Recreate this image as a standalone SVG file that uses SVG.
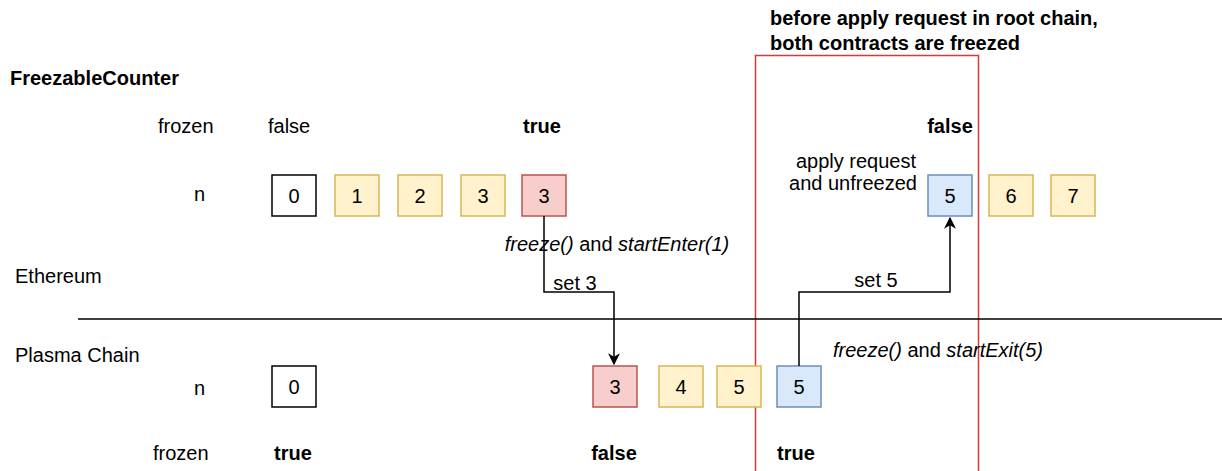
<svg xmlns="http://www.w3.org/2000/svg" width="1222" height="471" viewBox="0 0 1222 471">
<defs>
<style>
text{font-family:"Liberation Sans",Arial,sans-serif;font-size:20px;fill:#000}
.b{font-weight:bold}
.c{text-anchor:middle}
.e{text-anchor:end}
.i{font-style:italic}
.box{stroke-width:1.5}
.w{fill:#fff;stroke:#000}
.y{fill:#fff2cc;stroke:#d6b656}
.r{fill:#f8cecc;stroke:#b85450}
.bl{fill:#dae8fc;stroke:#6c8ebf}
.edge{fill:none;stroke:#000;stroke-width:1.5}
</style>
<marker id="arr" viewBox="0 0 10 10" refX="9" refY="5" markerWidth="12" markerHeight="12" markerUnits="userSpaceOnUse" orient="auto">
<path d="M0,0 L10,5 L0,10 L3,5 Z" fill="#000"/>
</marker>
</defs>
<rect fill="#fff" width="1222" height="471"/>

<g id="region">
<rect x="755.5" y="55.5" width="223" height="420" fill="none" stroke="#d63b3b" stroke-width="1.5"/>
<text class="b" x="770" y="25">before apply request in root chain,</text>
<text class="b" x="770" y="50">both contracts are freezed</text>
</g>

<g id="labels">
<text class="b" x="10" y="85">FreezableCounter</text>
<text x="158" y="133">frozen</text>
<text x="268" y="133">false</text>
<text class="b c" x="542" y="133">true</text>
<text class="b c" x="950" y="133">false</text>
<text x="194" y="201">n</text>
<text class="c" x="856" y="168">apply request</text>
<text class="c" x="853" y="190">and unfreezed</text>
<text x="15" y="283">Ethereum</text>
<text x="15" y="362">Plasma Chain</text>
<text x="194" y="395">n</text>
<text x="153" y="460">frozen</text>
<text class="b c" x="293" y="460">true</text>
<text class="b c" x="614" y="460">false</text>
<text class="b c" x="796" y="460">true</text>
</g>

<g id="divider"><line x1="78" y1="319" x2="1222" y2="319" stroke="#000" stroke-width="1.5"/></g>

<g id="eth-0"><rect class="box w" x="272" y="175" width="44" height="41"/><text class="c" x="294" y="203">0</text></g>
<g id="eth-1"><rect class="box y" x="335" y="175" width="44" height="41"/><text class="c" x="357" y="203">1</text></g>
<g id="eth-2"><rect class="box y" x="398" y="175" width="44" height="41"/><text class="c" x="420" y="203">2</text></g>
<g id="eth-3"><rect class="box y" x="461" y="175" width="44" height="41"/><text class="c" x="483" y="203">3</text></g>
<g id="eth-3f"><rect class="box r" x="522" y="175" width="44" height="41"/><text class="c" x="544" y="203">3</text></g>
<g id="eth-5"><rect class="box bl" x="928" y="175" width="44" height="41"/><text class="c" x="950" y="203">5</text></g>
<g id="eth-6"><rect class="box y" x="989" y="175" width="44" height="41"/><text class="c" x="1011" y="203">6</text></g>
<g id="eth-7"><rect class="box y" x="1051" y="175" width="44" height="41"/><text class="c" x="1073" y="203">7</text></g>

<g id="pl-0"><rect class="box w" x="272" y="366" width="44" height="41"/><text class="c" x="294" y="394">0</text></g>
<g id="pl-3"><rect class="box r" x="593" y="366" width="44" height="41"/><text class="c" x="615" y="394">3</text></g>
<g id="pl-4"><rect class="box y" x="659" y="366" width="44" height="41"/><text class="c" x="681" y="394">4</text></g>
<g id="pl-5"><rect class="box y" x="717" y="366" width="44" height="41"/><text class="c" x="739" y="394">5</text></g>
<g id="pl-5f"><rect class="box bl" x="777" y="366" width="44" height="41"/><text class="c" x="799" y="394">5</text></g>

<g id="connectors">
<path class="edge" d="M544,216 V292 H614 V364" marker-end="url(#arr)"/>
<path class="edge" d="M799,366 V292 H950 V218" marker-end="url(#arr)"/>
<text class="c" x="617" y="251"><tspan class="i">freeze()</tspan> and <tspan class="i">startEnter(1)</tspan></text>
<text class="c" x="575" y="290">set 3</text>
<text class="c" x="876" y="287">set 5</text>
<text class="c" x="938" y="357"><tspan class="i">freeze()</tspan> and <tspan class="i">startExit(5)</tspan></text>
</g>
</svg>
